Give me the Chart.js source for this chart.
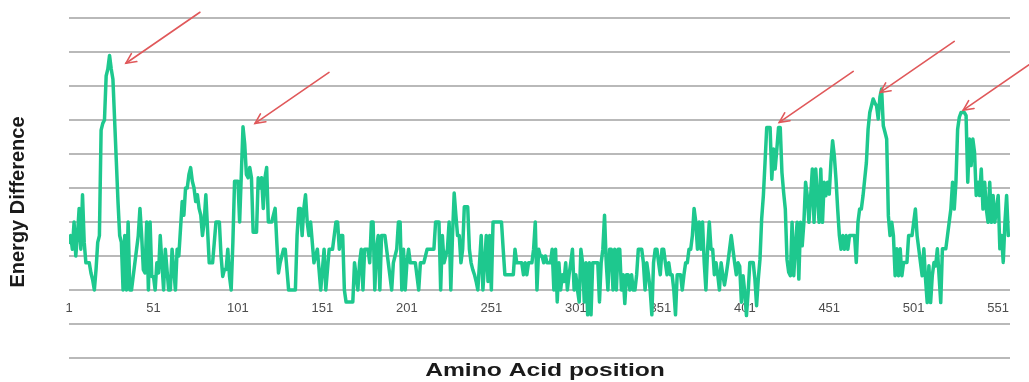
<!DOCTYPE html>
<html>
<head>
<meta charset="utf-8">
<script src="https://cdn.jsdelivr.net/npm/chart.js@4.4.1/dist/chart.umd.min.js"></script>
<style>
  html, body { margin: 0; padding: 0; background: #ffffff; }
  #wrap { width: 1029px; height: 382px; position: relative; }
</style>
</head>
<body>
<div id="wrap"><canvas id="chart" width="1029" height="382"></canvas></div>
<script>
// Energy difference per amino acid position
const energy = [
  1.4,
  1.6,1.2,2.0,1.0,1.6,2.4,1.2,2.8,1.4,0.8,
  0.8,0.8,0.5,0.3,0,0.6,1.4,1.6,4.7,4.9,
  5.0,6.3,6.5,6.9,6.5,6.2,5.0,3.8,2.6,1.6,
  1.4,0,1.6,0,2.0,0,0,0.4,0.8,1.2,
  1.6,2.4,1.6,0.6,0.5,2.0,0,2.0,0.4,0.4,
  0,0.8,0.5,1.6,0.8,0,1.2,0.6,0,0,1.2,
  0.6,0,1.2,1.0,1.8,2.6,2.2,3.0,3.0,3.4,
  3.6,3.2,3.0,2.6,2.8,2.4,2.2,1.6,2.0,2.8,
  1.8,0.8,0.8,0.8,1.4,2.0,2.0,2.0,1.0,0.4,
  0.6,0.6,1.2,0.4,0,1.4,3.2,3.2,3.2,2.0,
  3.4,4.8,4.3,3.4,3.3,3.6,3.3,1.7,1.7,1.7,
  3.3,3.0,3.3,2.4,3.3,3.6,2.0,2.0,2.0,2.2,
  2.4,1.4,0.5,0.8,1.0,1.2,1.2,0.6,0,0,0,
  0,0,1.6,2.4,2.4,1.6,2.4,2.8,2.0,1.6,
  2.0,1.4,0.8,1.0,1.2,0.6,0,0.6,1.2,0,
  0.6,1.2,1.2,1.2,1.6,2.0,2.0,1.2,1.6,1.6,
  0,-0.35,-0.35,-0.35,-0.35,-0.35,0.8,0.4,0,0.8,
  1.2,0,1.2,1.2,1.2,0.8,2.0,2.0,0,1.2,
  1.6,0,1.6,1.6,1.6,1.2,0.8,0.4,0,0.8,
  1.0,1.2,2.0,2.0,0,1.2,0,0.8,1.2,0.8,
  0.8,0.8,0.8,0.4,0,0.8,0.8,0.8,1.0,1.2,1.2,
  1.2,1.2,1.2,2.0,2.0,2.0,0,1.6,0.8,1.0,
  1.2,2.0,0,1.6,2.85,2.2,1.6,1.6,0.8,1.2,
  2.45,2.45,2.45,1.2,0.8,0.6,0.45,0.25,0,0.8,
  1.6,0,0.8,1.6,0.25,1.6,0,2.0,2.0,2.0,
  2.0,2.0,2.0,1.2,0.45,0.45,0.45,0.45,0.45,0.45,1.2,
  0.8,0.8,0.8,0.8,0.45,0.8,0.45,0.8,0.8,0.8,
  1.2,2.0,0,1.2,1.0,1.0,0.8,1.0,0.8,0.8,
  0.8,1.2,0,1.2,-0.35,0.8,0,0.45,0.25,0.8,
  0,0.45,0.8,1.2,0,0.45,0,-0.35,1.2,0.8,
  -0.35,0.8,-0.73,0.8,-0.73,0.8,0.8,0.8,0.8,-0.35,
  0.8,1.2,2.2,0.8,0,1.2,1.2,0,1.2,0,
  1.2,1.2,0,0.45,-0.4,0.45,0.45,0,0.45,0,
  0,0.45,1.2,1.2,1.2,0.8,0,0.8,0.45,0,-0.73,
  0.8,1.2,1.2,0.8,0.45,1.2,1.2,0.8,0.45,0.8,
  0.45,0.45,0,-0.73,0.45,0.45,0.45,0,0.45,0.8,
  0.8,1.2,1.2,1.6,2.4,2.0,1.2,2.0,1.2,2.0,
  0.8,0,1.2,2.0,1.2,1.2,0.45,0.8,0.45,0,
  0.8,0.45,0.15,0.45,0.8,1.2,1.6,1.2,0.8,0.45,
  0.8,0.7,-0.36,0.42,-0.07,-0.75,-0.07,0.81,0.81,0.81,0.32,
  -0.46,0.32,0.9,2.09,2.77,3.75,4.78,4.78,4.78,3.26,
  4.15,3.56,4.15,4.78,4.78,3.46,2.87,2.38,0.9,0.52,
  0.42,1.99,0.42,1.3,1.99,0.32,1.99,1.3,1.99,3.17,
  2.77,1.99,2.77,3.56,1.99,3.56,2.77,1.99,3.56,1.99,
  3.17,2.77,3.17,2.82,3.75,4.39,3.95,3.26,2.38,1.6,
  1.2,1.6,1.2,1.6,1.2,1.6,1.6,1.6,1.6,0.81,1.99,
  2.38,2.38,2.77,3.26,3.75,4.73,5.22,5.42,5.62,5.5,
  5.42,5.03,5.67,5.91,4.83,4.64,4.44,2.18,1.6,1.99,
  1.6,0.42,1.21,0.42,1.21,0.42,0.81,0.81,0.81,1.6,
  1.6,1.6,1.99,2.38,1.6,1.21,0.81,0.42,1.21,0.32,
  -0.37,0.71,-0.37,0.42,0.81,0.71,1.21,0.42,-0.37,1.21,
  1.21,1.21,1.6,1.99,2.38,3.17,2.38,3.17,4.73,5.08,
  5.22,5.22,5.22,5.13,3.17,4.44,3.66,4.44,4.05,2.78,3.17,
  2.78,3.56,2.38,3.17,2.38,1.99,3.17,1.99,2.78,1.99,
  2.38,2.78,1.21,1.6,0.81,1.99,2.78,1.6
];
// Amino acid positions (categories): 1, 2, 3, ...
const positions = energy.map((_, i) => i + 1);
// x tick labels
const xTickLabels = [1, 51, 101, 151, 201, 251, 301, 351, 401, 451, 501, 551];
// arrow tips (annotations pointing at peaks), in data units
const arrowTipPos = [34.7, 111.1, 421.4, 481.2, 530.3];
const arrowTipVal = [6.67, 4.9, 4.93, 5.81, 5.29];
const xTitle = 'Amino Acid position';
const yTitle = 'Energy Difference';

const FONT = '"Liberation Sans", Arial, Helvetica, sans-serif';

const annotPlugin = {
  id: 'annot',
  afterDraw(chart) {
    const { ctx, scales: { x, y } } = chart;
    ctx.save();
    // arrows
    ctx.strokeStyle = '#e0585a';
    ctx.lineWidth = 1.6;
    ctx.lineCap = 'round';
    arrowTipPos.forEach((p, i) => {
      const hx = x.getPixelForValue(p);
      const hy = y.getPixelForValue(arrowTipVal[i]);
      const tx = hx + 74, ty = hy - 51;
      ctx.beginPath();
      ctx.moveTo(tx, ty);
      ctx.lineTo(hx, hy);
      ctx.stroke();
      const ang = Math.atan2(ty - hy, tx - hx);
      const L = 11, spread = 0.45;
      ctx.beginPath();
      ctx.moveTo(hx + L * Math.cos(ang - spread), hy + L * Math.sin(ang - spread));
      ctx.lineTo(hx, hy);
      ctx.lineTo(hx + L * Math.cos(ang + spread), hy + L * Math.sin(ang + spread));
      ctx.stroke();
    });
    // axis titles
    ctx.fillStyle = '#1a1a1a';
    ctx.textAlign = 'center';
    ctx.textBaseline = 'alphabetic';
    ctx.save();
    ctx.translate(545, 376);
    ctx.scale(1.37, 1);
    ctx.font = 'bold 18px ' + FONT;
    ctx.fillText(xTitle, 0, 0);
    ctx.restore();
    ctx.save();
    ctx.translate(24, 202);
    ctx.rotate(-Math.PI / 2);
    ctx.font = 'bold 20px ' + FONT;
    ctx.fillText(yTitle, 0, 0);
    ctx.restore();
    ctx.restore();
  }
};

new Chart(document.getElementById('chart'), {
  type: 'line',
  data: {
    datasets: [{
      data: positions.map((p, i) => ({ x: p, y: energy[i] })),
      borderColor: '#1ec88e',
      borderWidth: 3.5,
      borderJoinStyle: 'round',
      borderCapStyle: 'round',
      pointRadius: 0,
      tension: 0,
      fill: false
    }]
  },
  options: {
    responsive: false,
    animation: false,
    devicePixelRatio: 1,
    layout: { padding: { top: 18, right: 19, bottom: 24, left: 0 } },
    plugins: { legend: { display: false }, tooltip: { enabled: false }, title: { display: false } },
    scales: {
      x: {
        type: 'linear',
        min: 1,
        max: 558,
        position: { y: 0 },
        grid: { display: false, drawTicks: false },
        border: { display: false },
        afterBuildTicks: (axis) => { axis.ticks = xTickLabels.map(v => ({ value: v })); },
        ticks: {
          autoSkip: false,
          maxRotation: 0,
          padding: 11,
          color: '#4d4d4d',
          font: { family: FONT, size: 13 }
        }
      },
      y: {
        min: -2,
        max: 8,
        ticks: { display: false, stepSize: 1 },
        grid: { color: '#b9b9b9', lineWidth: 2, drawTicks: false },
        border: { display: false },
        afterFit: (axis) => { axis.width = 69; }
      }
    }
  },
  plugins: [annotPlugin]
});
</script>
</body>
</html>
